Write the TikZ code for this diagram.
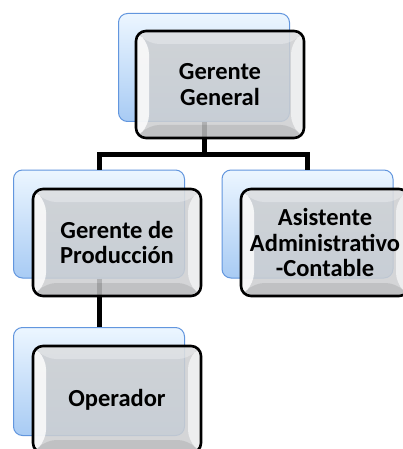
\documentclass[tikz,border=0pt]{standalone}
\usepackage{fontspec}
\setmainfont{Carlito}
\definecolor{bluetop}{RGB}{236,246,255}
\definecolor{bluebot}{RGB}{168,203,244}
\definecolor{blueedge}{RGB}{98,150,222}
\definecolor{grayface}{RGB}{205,207,209}
\begin{document}
\begin{tikzpicture}[x=1pt,y=-1pt,
  bluebox/.style={rectangle, rounded corners=9pt, draw=blueedge, line width=1pt,
    top color=bluetop, bottom color=bluebot,
    minimum width=171pt, minimum height=108pt},
  graybox/.style={rectangle, rounded corners=10pt, draw=black, line width=2.6pt,
    fill=grayface, fill opacity=0.86, text opacity=1,
    minimum width=168pt, minimum height=107pt, inner sep=0pt,
    font=\fontsize{24.5}{25.5}\selectfont\bfseries, align=center, text=black,
    path picture={
      \coordinate (pnw) at (path picture bounding box.north west);
      \coordinate (pne) at (path picture bounding box.north east);
      \coordinate (psw) at (path picture bounding box.south west);
      \coordinate (pse) at (path picture bounding box.south east);
      \coordinate (inw) at ([shift={(13pt,-13pt)}]pnw);
      \coordinate (ine) at ([shift={(-13pt,-13pt)}]pne);
      \coordinate (isw) at ([shift={(13pt,13pt)}]psw);
      \coordinate (ise) at ([shift={(-13pt,13pt)}]pse);
      \fill[white, fill opacity=0.8] (pnw) -- (inw) -- (isw) -- (psw) -- cycle;
      \fill[white, fill opacity=0.3] (pnw) -- (pne) -- (ine) -- (inw) -- cycle;
      \fill[white, fill opacity=0.6] (pne) -- (pse) -- (ise) -- (ine) -- cycle;
      \fill[black, fill opacity=0.09] (psw) -- (isw) -- (ise) -- (pse) -- cycle;
    }},
  conn/.style={line width=5pt, draw=black}]
\clip (0,0) rectangle (403,449);
\fill[white] (0,0) rectangle (403,449);
% back boxes
\node[bluebox] (b1) at (204,67.5) {};
\node[bluebox] (b2) at (99,224) {};
\node[bluebox] (b3) at (307.5,224) {};
\node[bluebox] (b4) at (99,381.5) {};
% connectors
\coordinate (bus) at (0,155);
\draw[conn] (b1.south) -- (b1.south |- bus) -| (b2.north);
\draw[conn] (b1.south |- bus) -| (b3.north);
\draw[conn] (b2.south) -- (b4.north);
% front boxes
\node[graybox] (g1) at (220,84.5) {Gerente\\General};
\node[graybox] (g2) at (117,242.5) {Gerente de\\Producción};
\node[graybox] (g3) at (325,242.5) {Asistente\\Administrativo\\-Contable};
\node[graybox] (g4) at (117,399.5) {Operador};
\end{tikzpicture}
\end{document}
